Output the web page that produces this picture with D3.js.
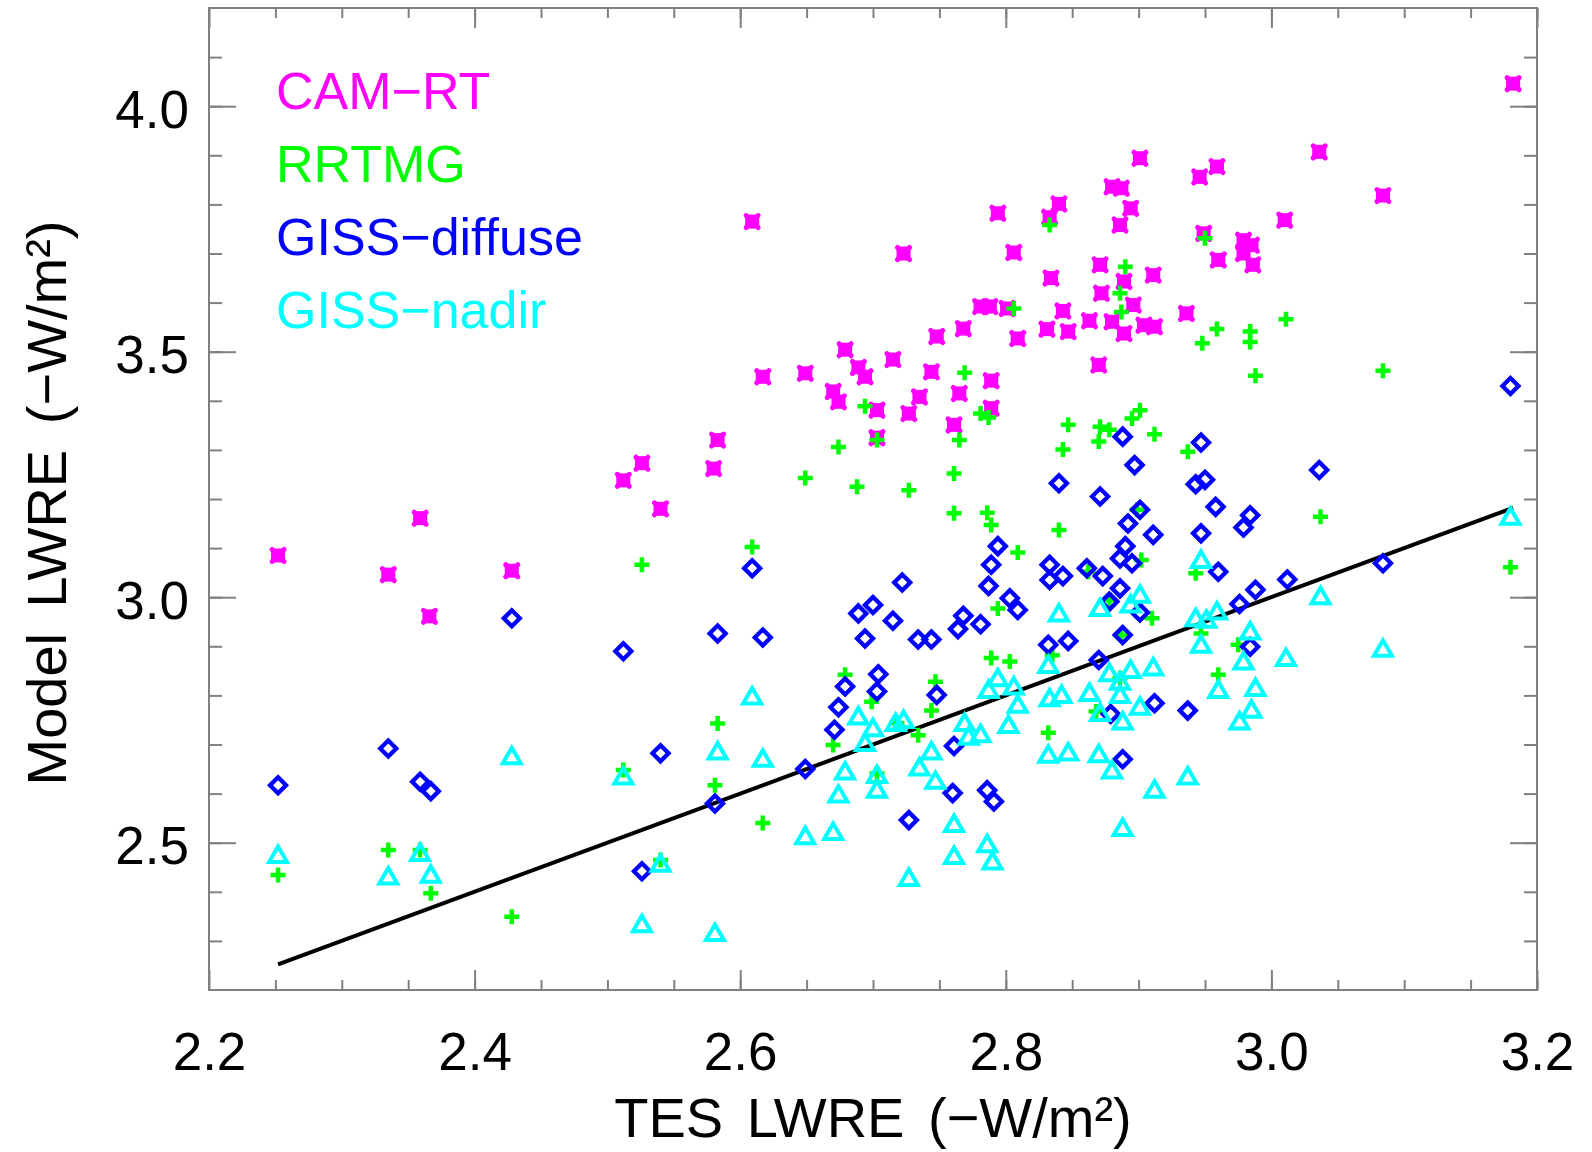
<!DOCTYPE html>
<html>
<head>
<meta charset="utf-8">
<style>
  body { margin: 0; background: #fff; }
  text { font-family: "Liberation Sans", Arial, sans-serif; }
</style>
</head>
<body>
<div id="viz"></div>
<script src="https://d3js.org/d3.v7.min.js"></script>
<script>
// values: [TES LWRE, model LWRE]
var camRT = [[2.252,3.085],[2.335,3.046],[2.359,3.161],[2.366,2.961],[2.428,3.054],[2.512,3.238],[2.526,3.273],[2.540,3.180],[2.583,3.320],[2.580,3.262],[2.609,3.765],[2.617,3.449],[2.649,3.456],[2.670,3.419],[2.674,3.398],[2.679,3.504],[2.689,3.468],[2.694,3.449],[2.715,3.484],[2.703,3.381],[2.703,3.325],[2.723,3.700],[2.727,3.374],[2.735,3.408],[2.744,3.459],[2.748,3.531],[2.761,3.351],[2.765,3.415],[2.768,3.547],[2.781,3.592],[2.788,3.592],[2.789,3.441],[2.789,3.385],[2.794,3.782],[2.801,3.588],[2.806,3.702],[2.809,3.527],[2.831,3.546],[2.833,3.774],[2.834,3.650],[2.840,3.801],[2.843,3.583],[2.847,3.541],[2.863,3.563],[2.870,3.473],[2.871,3.677],[2.872,3.619],[2.880,3.836],[2.887,3.833],[2.880,3.561],[2.889,3.643],[2.889,3.537],[2.886,3.758],[2.894,3.792],[2.896,3.595],[2.901,3.894],[2.904,3.554],[2.911,3.656],[2.912,3.551],[2.936,3.578],[2.946,3.856],[2.949,3.741],[2.959,3.877],[2.960,3.687],[2.979,3.727],[2.985,3.717],[2.979,3.700],[2.986,3.677],[3.010,3.768],[3.036,3.907],[3.084,3.818],[3.182,4.046]];

var rrtmg = [[2.252,2.434],[2.335,2.485],[2.359,2.485],[2.367,2.397],[2.428,2.349],[2.512,2.648],[2.526,3.066],[2.540,2.465],[2.581,2.617],[2.583,2.743],[2.609,3.102],[2.617,2.540],[2.649,3.243],[2.670,2.699],[2.674,3.306],[2.679,2.842],[2.688,3.225],[2.694,3.389],[2.699,2.787],[2.703,3.320],[2.703,2.641],[2.718,2.744],[2.727,3.218],[2.734,2.719],[2.744,2.769],[2.747,2.828],[2.761,3.252],[2.761,3.171],[2.765,3.320],[2.769,3.457],[2.781,3.374],[2.787,3.366],[2.786,3.172],[2.789,3.147],[2.789,2.876],[2.794,2.977],[2.803,2.869],[2.806,3.588],[2.809,3.091],[2.832,2.724],[2.833,3.758],[2.835,2.882],[2.840,3.137],[2.843,3.301],[2.847,3.351],[2.862,3.052],[2.868,2.767],[2.870,3.317],[2.871,3.347],[2.878,3.341],[2.878,2.994],[2.886,3.619],[2.886,2.835],[2.887,3.581],[2.887,2.923],[2.890,3.673],[2.895,3.364],[2.899,3.178],[2.901,3.381],[2.902,3.076],[2.910,2.957],[2.912,3.332],[2.937,3.296],[2.943,3.049],[2.947,2.926],[2.948,3.517],[2.950,3.731],[2.959,3.546],[2.960,2.842],[2.975,2.903],[2.984,3.541],[2.984,3.520],[2.988,3.451],[3.011,3.566],[3.037,3.164],[3.084,3.461],[3.180,3.061]];

var gissDiffuse = [[2.252,2.617],[2.335,2.692],[2.359,2.624],[2.367,2.605],[2.428,2.957],[2.512,2.890],[2.526,2.442],[2.540,2.682],[2.581,2.580],[2.583,2.926],[2.609,3.059],[2.617,2.918],[2.649,2.650],[2.671,2.730],[2.674,2.776],[2.679,2.818],[2.689,2.967],[2.700,2.984],[2.694,2.916],[2.703,2.808],[2.704,2.843],[2.715,2.952],[2.722,3.030],[2.727,2.546],[2.734,2.914],[2.744,2.914],[2.748,2.801],[2.761,2.697],[2.760,2.601],[2.764,2.935],[2.768,2.962],[2.781,2.945],[2.786,2.607],[2.791,2.584],[2.787,3.023],[2.789,3.066],[2.794,3.104],[2.803,2.998],[2.809,2.974],[2.832,2.903],[2.833,3.066],[2.833,3.035],[2.840,3.232],[2.843,3.043],[2.847,2.911],[2.861,3.059],[2.870,2.872],[2.871,3.205],[2.873,3.043],[2.878,2.991],[2.879,2.762],[2.886,3.079],[2.886,3.018],[2.888,3.327],[2.888,2.670],[2.888,2.923],[2.890,3.104],[2.892,3.150],[2.895,3.069],[2.897,3.269],[2.901,3.178],[2.901,2.969],[2.911,3.127],[2.912,2.784],[2.937,2.769],[2.943,3.230],[2.950,3.239],[2.947,3.315],[2.947,3.130],[2.958,3.184],[2.960,3.052],[2.976,2.986],[2.979,3.142],[2.984,3.167],[2.984,2.899],[2.988,3.015],[3.012,3.036],[3.036,3.259],[3.084,3.069],[3.180,3.430]];

var gissNadir = [[2.252,2.478],[2.335,2.434],[2.359,2.482],[2.367,2.438],[2.428,2.679],[2.512,2.638],[2.526,2.337],[2.540,2.460],[2.581,2.319],[2.583,2.689],[2.609,2.801],[2.617,2.674],[2.649,2.516],[2.670,2.525],[2.674,2.601],[2.679,2.648],[2.689,2.760],[2.694,2.706],[2.700,2.736],[2.703,2.611],[2.703,2.641],[2.717,2.747],[2.723,2.753],[2.727,2.431],[2.735,2.656],[2.744,2.689],[2.747,2.629],[2.761,2.541],[2.761,2.476],[2.769,2.747],[2.772,2.719],[2.781,2.724],[2.786,2.500],[2.790,2.465],[2.787,2.814],[2.794,2.838],[2.802,2.743],[2.806,2.821],[2.809,2.784],[2.832,2.865],[2.833,2.797],[2.840,2.970],[2.842,2.804],[2.832,2.682],[2.847,2.687],[2.863,2.808],[2.870,2.683],[2.871,2.981],[2.871,2.767],[2.878,2.848],[2.880,2.650],[2.886,2.831],[2.886,2.804],[2.888,2.533],[2.888,2.750],[2.894,2.988],[2.894,2.855],[2.901,3.008],[2.901,2.780],[2.911,2.860],[2.912,2.611],[2.937,2.638],[2.943,2.960],[2.947,3.079],[2.947,2.906],[2.951,2.957],[2.959,2.974],[2.960,2.814],[2.976,2.750],[2.979,2.872],[2.984,2.933],[2.985,2.774],[2.988,2.818],[3.011,2.879],[3.037,3.005],[3.084,2.898],[3.180,3.167]];

// 1:1 line over the TES range
var oneToOne = [[2.252,2.252],[3.182,3.182]];

var xMajorTicks = [2.2, 2.4, 2.6, 2.8, 3.0, 3.2];
var yMajorTicks = [2.5, 3.0, 3.5, 4.0];
var legendNames = ["CAM\u2212RT", "RRTMG", "GISS\u2212diffuse", "GISS\u2212nadir"];
var legendColors = ["#ff00ff", "#00ff00", "#0000ff", "#00ffff"];

var plotLeft = 209, plotRight = 1537, plotTop = 8, plotBottom = 990;

var svg = d3.select("#viz").append("svg")
  .attr("width", 1592)
  .attr("height", 1152);

svg.append("rect").attr("width", 1592).attr("height", 1152).attr("fill", "#fff");

var x = d3.scaleLinear().domain([2.2, 3.2]).range([plotLeft, plotRight]);
var y = d3.scaleLinear().domain([2.2, 4.2]).range([plotBottom, plotTop]);

var xMinor = d3.range(2.25, 3.2, 0.05);
var yMinor = d3.range(2.3, 4.15, 0.1);

function styleAxis(g) {
  g.select(".domain").remove();
  g.attr("font-family", null).attr("font-size", null);
  g.selectAll("line").attr("stroke", "#808080").attr("stroke-width", 2);
  g.selectAll("text").attr("fill", "#000").style("font-size", "53px");
}

// ticks point inward on all four sides
svg.append("g").attr("transform", "translate(0," + plotBottom + ")")
  .call(d3.axisBottom(x).tickValues(xMinor).tickSize(-10).tickFormat("")).call(styleAxis);
svg.append("g").attr("transform", "translate(0," + plotBottom + ")")
  .call(d3.axisBottom(x).tickValues(xMajorTicks).tickSize(-20).tickPadding(42).tickFormat(d3.format(".1f"))).call(styleAxis);
svg.append("g").attr("transform", "translate(0," + plotTop + ")")
  .call(d3.axisTop(x).tickValues(xMinor).tickSize(-10).tickFormat("")).call(styleAxis);
svg.append("g").attr("transform", "translate(0," + plotTop + ")")
  .call(d3.axisTop(x).tickValues(xMajorTicks).tickSize(-20).tickFormat("")).call(styleAxis);

svg.append("g").attr("transform", "translate(" + plotLeft + ",0)")
  .call(d3.axisLeft(y).tickValues(yMinor).tickSize(-13).tickFormat("")).call(styleAxis);
svg.append("g").attr("transform", "translate(" + plotLeft + ",0)")
  .call(d3.axisLeft(y).tickValues(yMajorTicks).tickSize(-27).tickPadding(20).tickFormat(d3.format(".1f"))).call(styleAxis)
  .selectAll("text").attr("dy", "0.4em");
svg.append("g").attr("transform", "translate(" + plotRight + ",0)")
  .call(d3.axisRight(y).tickValues(yMinor).tickSize(-13).tickFormat("")).call(styleAxis);
svg.append("g").attr("transform", "translate(" + plotRight + ",0)")
  .call(d3.axisRight(y).tickValues(yMajorTicks).tickSize(-27).tickFormat("")).call(styleAxis);

svg.append("rect")
  .attr("x", plotLeft).attr("y", plotTop)
  .attr("width", plotRight - plotLeft).attr("height", plotBottom - plotTop)
  .attr("fill", "none").attr("stroke", "#808080").attr("stroke-width", 2);

// the 1:1 line
svg.append("path")
  .datum(oneToOne)
  .attr("d", d3.line().x(function(d) { return x(d[0]); }).y(function(d) { return y(d[1]); }))
  .attr("stroke", "#000").attr("stroke-width", 4).attr("fill", "none");

// CAM-RT: thick filled X, nearly square
var cam = svg.append("g").selectAll("g").data(camRT).enter().append("g")
  .attr("transform", function(d) { return "translate(" + x(d[0]) + "," + y(d[1]) + ")"; });
cam.append("rect").attr("x", -7).attr("y", -7).attr("width", 14).attr("height", 14).attr("fill", "#ff00ff");
cam.append("path").attr("d", "M-6,-6L6,6M6,-6L-6,6")
  .attr("stroke", "#ff00ff").attr("stroke-width", 5).attr("stroke-linecap", "round");

// RRTMG: plus
svg.append("g").selectAll("path").data(rrtmg).enter().append("path")
  .attr("transform", function(d) { return "translate(" + x(d[0]) + "," + y(d[1]) + ")"; })
  .attr("d", "M-7.5,0H7.5M0,-7.5V7.5")
  .attr("stroke", "#00ff00").attr("stroke-width", 4.5).attr("fill", "none");

// GISS-diffuse: diamond
svg.append("g").selectAll("path").data(gissDiffuse).enter().append("path")
  .attr("transform", function(d) { return "translate(" + x(d[0]) + "," + y(d[1]) + ")"; })
  .attr("d", "M0,-8L8,0L0,8L-8,0Z")
  .attr("stroke", "#0000ff").attr("stroke-width", 4.3).attr("fill", "none");

// GISS-nadir: triangle
svg.append("g").selectAll("path").data(gissNadir).enter().append("path")
  .attr("transform", function(d) { return "translate(" + x(d[0]) + "," + y(d[1]) + ")"; })
  .attr("d", "M-9,8.5L0,-7L9,8.5Z")
  .attr("stroke", "#00ffff").attr("stroke-width", 4).attr("fill", "none");

// legend
svg.append("g").selectAll("text").data(legendNames).enter().append("text")
  .attr("x", 276)
  .attr("y", function(d, i) { return 109 + i * 73; })
  .attr("fill", function(d, i) { return legendColors[i]; })
  .style("font-size", "52px")
  .text(function(d) { return d; });

// axis titles
svg.append("text")
  .attr("x", (plotLeft + plotRight) / 2).attr("y", 1137)
  .attr("text-anchor", "middle")
  .style("font-size", "56px").style("word-spacing", "8px")
  .text("TES LWRE (\u2212W/m\u00b2)");

svg.append("text")
  .attr("transform", "translate(66," + ((plotTop + plotBottom) / 2 + 4) + ") rotate(-90)")
  .attr("text-anchor", "middle")
  .style("font-size", "56px").style("word-spacing", "10px")
  .text("Model LWRE (\u2212W/m\u00b2)");
</script>
</body>
</html>
